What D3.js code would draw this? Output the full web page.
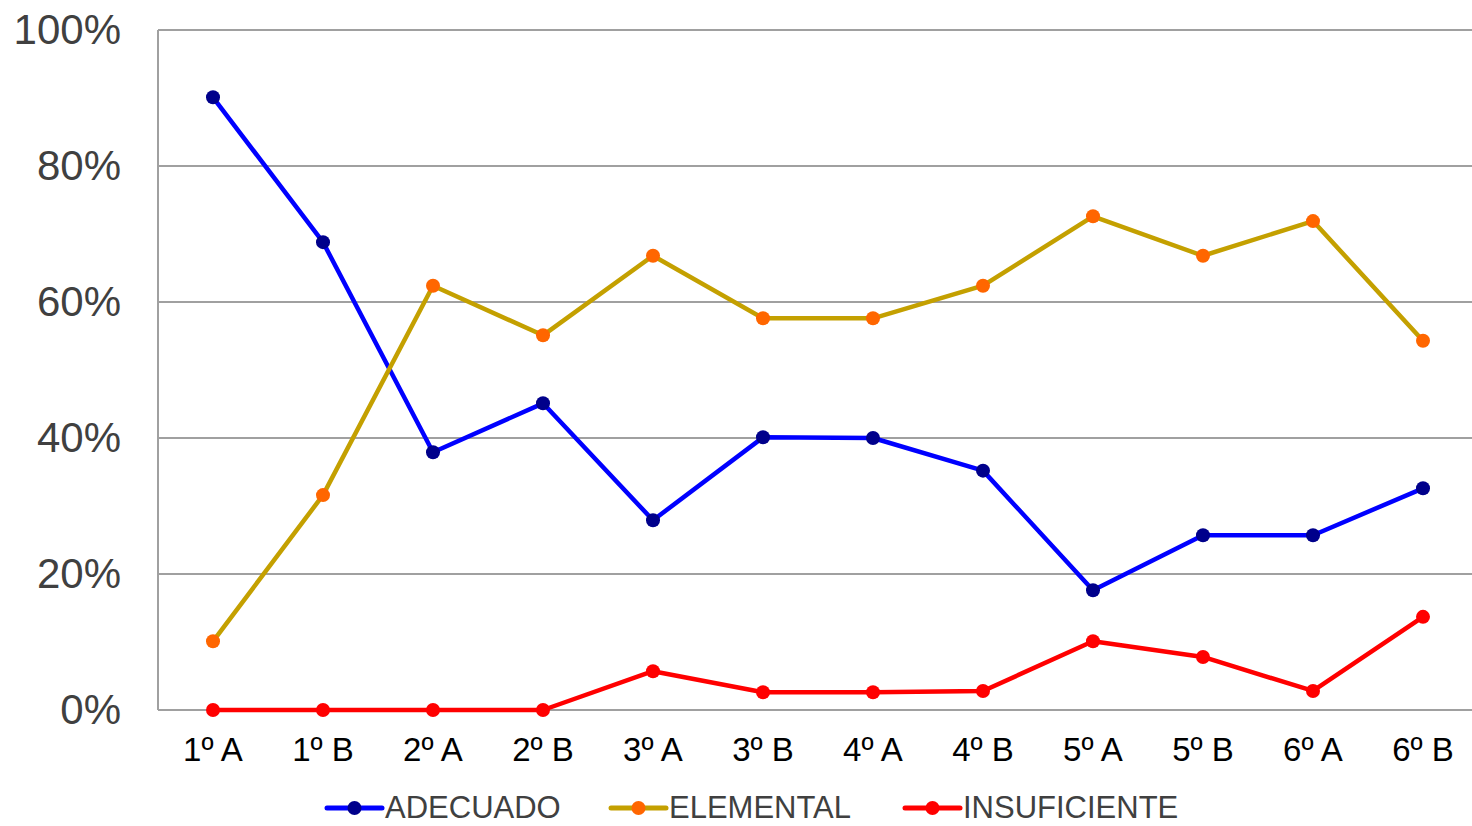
<!DOCTYPE html>
<html>
<head>
<meta charset="utf-8">
<script src="https://cdn.jsdelivr.net/npm/d3@7"></script>
<style>
  body { margin: 0; background: #fff; }
  svg { display: block; font-family: "Liberation Sans", Arial, sans-serif; }
</style>
</head>
<body>
<svg id="chart" width="1472" height="826"></svg>
<script>
// data
const categories = ['1º A', '1º B', '2º A', '2º B', '3º A', '3º B', '4º A', '4º B', '5º A', '5º B', '6º A', '6º B'];
const adecuado = [90.1, 68.8, 37.9, 45.1, 27.9, 40.1, 40.0, 35.2, 17.6, 25.7, 25.7, 32.6];
const elemental = [10.1, 31.6, 62.4, 55.1, 66.8, 57.6, 57.6, 62.4, 72.6, 66.8, 71.9, 54.3];
const insuficiente = [0, 0, 0, 0, 5.7, 2.6, 2.6, 2.8, 10.1, 7.8, 2.8, 13.7];
const yTicks = [0, 20, 40, 60, 80, 100];

const series = [
  { name: 'ADECUADO', values: adecuado, line: '#0000ff', dot: '#00008b' },
  { name: 'ELEMENTAL', values: elemental, line: '#c4a000', dot: '#ff6600' },
  { name: 'INSUFICIENTE', values: insuficiente, line: '#ff0000', dot: '#ff0000' }
];

const svg = d3.select('#chart');
const plotLeft = 158, plotRight = 1478, plotTop = 30, plotBottom = 710;

const x = d3.scaleBand().domain(categories).range([plotLeft, plotRight]).padding(0);
const y = d3.scaleLinear().domain([0, 100]).range([plotBottom, plotTop]);
const cx = d => x(d) + x.bandwidth() / 2;

// grid lines
svg.append('g')
  .selectAll('line')
  .data(yTicks)
  .enter().append('line')
  .attr('x1', plotLeft).attr('x2', 1472)
  .attr('y1', d => y(d)).attr('y2', d => y(d))
  .attr('stroke', '#a0a0a0')
  .attr('stroke-width', 2);

// left axis line
svg.append('line')
  .attr('x1', plotLeft).attr('x2', plotLeft)
  .attr('y1', plotTop).attr('y2', plotBottom)
  .attr('stroke', '#a0a0a0')
  .attr('stroke-width', 2);

// y labels
svg.append('g')
  .selectAll('text')
  .data(yTicks)
  .enter().append('text')
  .attr('x', 121)
  .attr('y', d => y(d) + 14)
  .attr('text-anchor', 'end')
  .attr('font-size', 42)
  .attr('fill', '#404040')
  .text(d => d + '%');

// x labels
svg.append('g')
  .selectAll('text')
  .data(categories)
  .enter().append('text')
  .attr('x', d => cx(d))
  .attr('y', 761)
  .attr('text-anchor', 'middle')
  .attr('font-size', 33)
  .attr('fill', '#000')
  .text(d => d);

const line = d3.line()
  .x((d, i) => cx(categories[i]))
  .y(d => y(d));

series.forEach(s => {
  svg.append('path')
    .attr('d', line(s.values))
    .attr('fill', 'none')
    .attr('stroke', s.line)
    .attr('stroke-width', 4.5)
    .attr('stroke-linejoin', 'round');

  svg.append('g')
    .selectAll('circle')
    .data(s.values)
    .enter().append('circle')
    .attr('cx', (d, i) => cx(categories[i]))
    .attr('cy', d => y(d))
    .attr('r', 7)
    .attr('fill', s.dot);
});

// legend
const legendX = [327, 611, 905];
const legend = svg.append('g');
series.forEach((s, i) => {
  const g = legend.append('g').attr('transform', `translate(${legendX[i]},808)`);
  g.append('line')
    .attr('x1', 0).attr('x2', 55)
    .attr('stroke', s.line)
    .attr('stroke-width', 5)
    .attr('stroke-linecap', 'round');
  g.append('circle')
    .attr('cx', 27.5).attr('r', 7)
    .attr('fill', s.dot);
  g.append('text')
    .attr('x', 58)
    .attr('y', 10)
    .attr('font-size', 31)
    .attr('fill', '#404040')
    .text(s.name);
});
</script>
</body>
</html>
